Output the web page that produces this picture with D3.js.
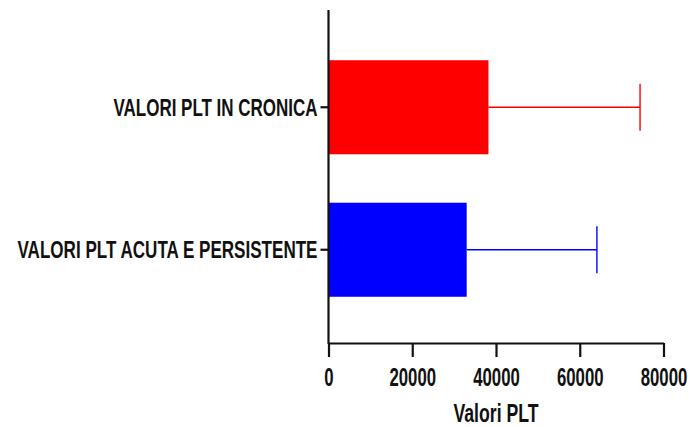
<!DOCTYPE html>
<html>
<head>
<meta charset="utf-8">
<script src="https://cdn.jsdelivr.net/npm/d3@7"></script>
<style>
  html, body { margin: 0; padding: 0; background: #fff; }
  svg { display: block; }
  text { font-family: "Liberation Sans", Arial, sans-serif; font-weight: bold; fill: #111; }
</style>
</head>
<body>
<svg id="chart" width="690" height="427"></svg>
<script>
// Platelet values (mean and SD) per group
const categories = ["VALORI PLT IN CRONICA", "VALORI PLT ACUTA E PERSISTENTE"];
const means = [38200, 33000];
const sds = [36200, 31100];
const colors = ["#ff0000", "#0000ff"];
const xTicks = [0, 20000, 40000, 60000, 80000];
const xTitle = "Valori PLT";

const svg = d3.select("#chart");
const plotLeft = 328.5, plotRight = 663.5, plotTop = 10, axisY = 343;

const x = d3.scaleLinear().domain([0, 80000]).range([plotLeft, plotRight]);
const y = d3.scaleBand().domain(categories).range([14, axisY])
  .paddingInner(0.34).paddingOuter(0.3245);

const rows = categories.map((c, i) => ({ cat: c, mean: means[i], sd: sds[i], color: colors[i] }));

// bars
svg.append("g").selectAll("rect").data(rows).join("rect")
  .attr("x", x(0))
  .attr("y", d => y(d.cat))
  .attr("width", d => x(d.mean) - x(0))
  .attr("height", y.bandwidth())
  .attr("fill", d => d.color);

// error bars (mean + SD)
const eb = svg.append("g").selectAll("g").data(rows).join("g")
  .attr("stroke", d => d.color).attr("stroke-width", 1.4);
eb.append("line")
  .attr("x1", d => x(d.mean)).attr("x2", d => x(d.mean + d.sd))
  .attr("y1", d => y(d.cat) + y.bandwidth() / 2)
  .attr("y2", d => y(d.cat) + y.bandwidth() / 2);
eb.append("line")
  .attr("x1", d => x(d.mean + d.sd)).attr("x2", d => x(d.mean + d.sd))
  .attr("y1", d => y(d.cat) + y.bandwidth() / 4)
  .attr("y2", d => y(d.cat) + y.bandwidth() * 3 / 4);

// x axis
const gx = svg.append("g").attr("transform", `translate(0,${axisY})`)
  .call(d3.axisBottom(x).tickValues(xTicks).tickFormat(d3.format("d"))
    .tickSize(14).tickSizeOuter(0).tickPadding(11));
gx.select(".domain").attr("stroke", "#111").attr("stroke-width", 2.2);
gx.selectAll(".tick line").attr("stroke", "#111").attr("stroke-width", 2.2);
gx.selectAll(".tick text")
  .attr("font-size", 25)
  .attr("transform", "scale(0.67,1)");

// y axis
const gy = svg.append("g").attr("transform", `translate(${plotLeft},0)`)
  .call(d3.axisLeft(y).tickSize(8).tickSizeOuter(0).tickPadding(3));
gy.select(".domain").attr("d", `M0,${plotTop}V${axisY + 1}`)
  .attr("stroke", "#111").attr("stroke-width", 2.2);
gy.selectAll(".tick line").attr("stroke", "#111").attr("stroke-width", 2.2);
const labelWidths = [204, 300];
gy.selectAll(".tick text")
  .attr("font-size", 23)
  .attr("dy", "0.36em")
  .attr("textLength", (d, i) => labelWidths[i])
  .attr("lengthAdjust", "spacingAndGlyphs");

// x axis title
svg.append("text")
  .attr("transform", `translate(${(plotLeft + plotRight) / 2},${421.5}) scale(0.68,1)`)
  .attr("text-anchor", "middle")
  .attr("font-size", 26)
  .text(xTitle);
</script>
</body>
</html>
